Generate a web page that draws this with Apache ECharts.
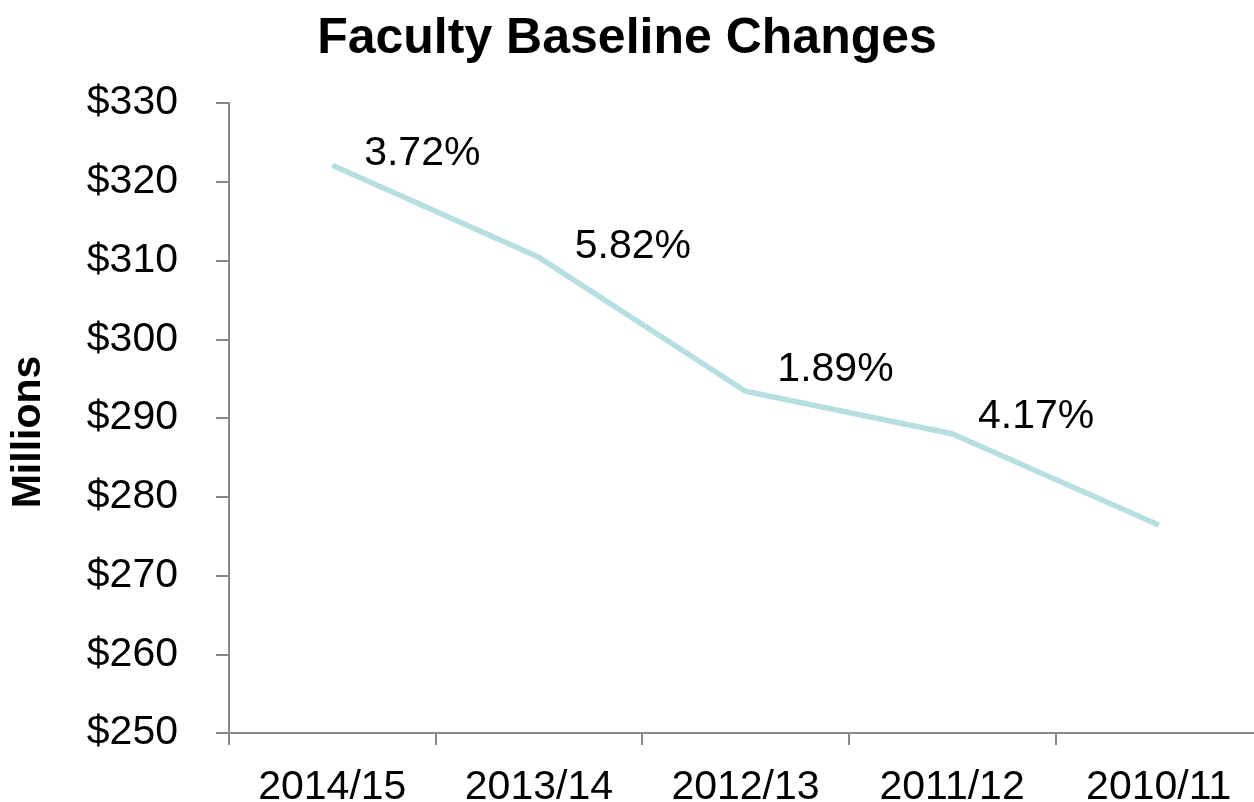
<!DOCTYPE html>
<html>
<head>
<meta charset="utf-8">
<script src="https://cdn.jsdelivr.net/npm/echarts@6/dist/echarts.min.js"></script>
<style>html,body{margin:0;padding:0;background:#fff;}#chart{width:1254px;height:802px;}</style>
</head>
<body>
<div id="chart"></div>
<script>
const categories = ['2014/15', '2013/14', '2012/13', '2011/12', '2010/11'];
const values = [322.1, 310.4, 293.4, 288.0, 276.4];
const pctLabels = ['3.72%', '5.82%', '1.89%', '4.17%', ''];
const yTicks = [250, 260, 270, 280, 290, 300, 310, 320, 330];

const labelOffsets = [[90, -12], [94, -11], [90, -22], [84, -17], [0, 0]];
const font = 'Arial, "Liberation Sans", sans-serif';
const axisColor = '#898989';

const chart = echarts.init(document.getElementById('chart'));
chart.setOption({
  animation: false,
  backgroundColor: '#ffffff',
  title: {
    text: 'Faculty Baseline Changes',
    left: 'center',
    top: 9,
    textStyle: { fontFamily: font, fontSize: 50, fontWeight: 'bold', color: '#000' }
  },
  grid: { left: 229, top: 103, bottom: 69, right: -8, containLabel: false, outerBoundsMode: 'none' },
  xAxis: {
    type: 'category',
    data: categories,
    boundaryGap: true,
    axisLine: { lineStyle: { color: axisColor, width: 2 } },
    axisTick: { show: true, length: 12, lineStyle: { color: axisColor, width: 2 } },
    axisLabel: { fontFamily: font, fontSize: 41, color: '#000', margin: 34 },
    splitLine: { show: false }
  },
  yAxis: {
    type: 'value',
    min: yTicks[0],
    max: yTicks[yTicks.length - 1],
    interval: 10,
    axisLine: { show: true, lineStyle: { color: axisColor, width: 2 } },
    axisTick: { show: true, length: 13, lineStyle: { color: axisColor, width: 2 } },
    axisLabel: { fontFamily: font, fontSize: 41, color: '#000', margin: 51, formatter: v => '$' + v },
    splitLine: { show: false }
  },
  graphic: [{
    type: 'text',
    x: 29,
    y: 432,
    rotation: Math.PI / 2,
    style: {
      text: 'Millions',
      fontFamily: font,
      fontSize: 41,
      fontWeight: 'bold',
      fill: '#000',
      align: 'center',
      verticalAlign: 'middle'
    }
  }],
  series: [{
    type: 'line',
    data: values.map((v, i) => ({
      value: v,
      label: { offset: labelOffsets[i] }
    })),
    symbol: 'circle',
    symbolSize: 1,
    showSymbol: true,
    itemStyle: { color: 'rgba(0,0,0,0)' },
    lineStyle: { color: '#B7DEE1', width: 5.5 },
    label: {
      show: true,
      position: 'inside',
      formatter: p => pctLabels[p.dataIndex],
      fontFamily: font,
      fontSize: 41,
      color: '#000'
    }
  }]
});
</script>
</body>
</html>
